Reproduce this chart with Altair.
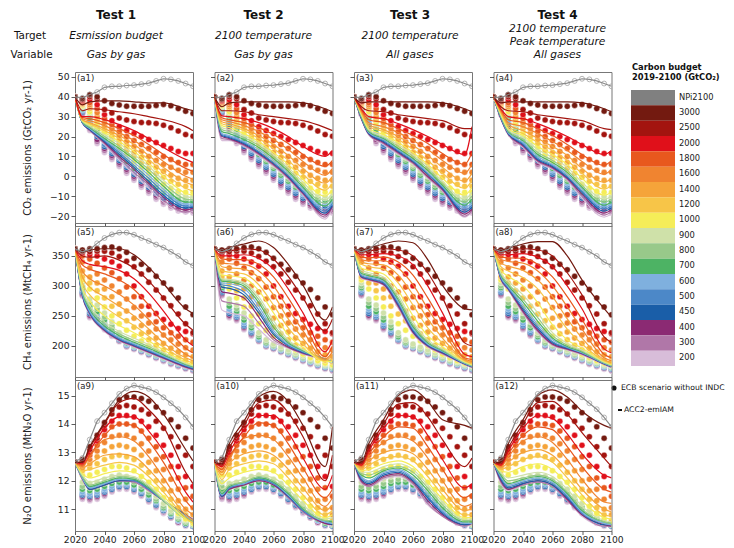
import altair as alt
import pandas as pd

FONT = "DejaVu Sans"

YEARS = list(range(2020, 2101, 5))
LINE_YEARS = [2020, 2025, 2030, 2040, 2050, 2060, 2070, 2080, 2095, 2100]
BUDGETS = ["3000", "2500", "2000", "1800", "1600", "1400", "1200", "1000", "900",
           "800", "700", "600", "500", "450", "400", "300", "200"]
CATS = ["NPi2100"] + BUDGETS
COLORS = ["#808080", "#731a10", "#a3140f", "#e0101a", "#e8581e", "#f08430", "#f5a43a",
          "#f7c548", "#f5ed58", "#cfe1a9", "#98c98a", "#4db364", "#7fb0de", "#4c88c8",
          "#1a5ea8", "#8b2a73", "#b077a8", "#d8bdd9"]

TESTS = ["Test 1", "Test 2", "Test 3", "Test 4"]
TARGETS = [["Esmission budget", "Gas by gas"],
           ["2100 temperature", "Gas by gas"],
           ["2100 temperature", "All gases"],
           ["2100 temperature", "Peak temperature", "All gases"]]
ROW_NAMES = ["Target", "Variable"]
LEGEND_TITLE = ["Carbon budget", "2019-2100 (GtCO₂)"]
KEY_DOT = "ECB scenario without INDC"
KEY_LINE = "ACC2-emIAM"

# ---------------- NPi2100 (same in every test) ----------------
NPI_CO2 = [40, 39.5, 41.2, 42.4, 44.8, 45.3, 45.3, 45.7, 45.9, 46.4, 46.9, 48, 49.1, 48.8, 48, 46.7, 45.3]
NPI_CH4 = [362, 357, 361, 371, 380, 386, 389, 389, 385.5, 380, 375, 369, 364, 357, 350, 340, 334]
NPI_N2O = [12.68, 12.8, 13.45, 14.1, 14.4, 14.73, 15.06, 15.25, 15.36, 15.3, 15.24, 15.12, 14.94, 14.73, 14.52, 14.23, 13.9]

# ---------------- ECB scenarios (dots), 2020..2100 every 5 yr ----------------
ECB_CO2 = [
    [40, 39, 41, 40, 38, 36.7, 35.9, 35.3, 35.2, 35.2, 35.2, 35.7, 36.2, 35.5, 34.1, 32.8, 31.6],
    [40, 38.5, 40, 39, 33.6, 31.9, 29.3, 28.4, 27.6, 27.1, 27, 26.6, 25.7, 24.5, 22.8, 21, 20.2],
    [40, 38, 38.5, 36, 31, 28, 25, 23, 21.5, 20, 18.5, 17, 15.5, 14, 12.5, 11.5, 11.5],
    [40, 37.5, 37, 34, 29, 26, 22.5, 20, 18, 16, 14, 12, 10, 8.5, 7, 6, 6],
    [40, 37, 36, 32, 27, 24, 20.5, 17.5, 15, 12.5, 10, 8, 6, 4.5, 3, 2, 2],
    [40, 36.5, 35, 30, 25.5, 22, 18.5, 15, 12, 9.5, 7, 4.5, 2.5, 0.5, -1, -2, -2],
    [40, 36, 34, 28.5, 24, 20, 16.5, 13, 10, 7, 4, 1.5, -0.5, -2.5, -4, -5, -5],
    [40, 35.5, 32.5, 27, 22, 18.5, 14.5, 11, 7.5, 4.5, 1.5, -1.5, -4, -6, -7.5, -8, -8],
    [40, 35, 31.5, 26, 21, 17, 13, 9.5, 6, 3, 0, -3, -5.5, -7.5, -9, -10, -10],
    [40, 34.5, 30.5, 25, 20, 16, 12, 8.5, 5, 1.5, -1.5, -4.5, -7, -9, -10.5, -11, -11],
    [40, 34, 29.5, 23.5, 19, 15, 11, 7.5, 4, 0.5, -2.5, -5.5, -8, -10, -11.5, -12, -12.5],
    [40, 33.5, 28, 22, 17.5, 13.5, 10, 6.5, 3, -0.5, -3.5, -6.5, -9, -11, -12.5, -13, -13.5],
    [40, 33, 27, 21, 16, 12.5, 9, 5.5, 2, -1.5, -4.5, -7.5, -10, -12, -13.5, -14, -14.5],
    [40, 32.5, 26, 20, 15, 11.5, 8, 4.5, 1, -2.5, -5.5, -8.5, -11, -13, -14.5, -15, -15.5],
    [40, 32, 25, 18.5, 14, 10.5, 7, 3.5, 0, -3.5, -6.5, -9.5, -12, -14, -15.5, -16, -16.5],
    [40, 31.5, 24, 17.5, 13, 9.5, 6, 2.5, -1, -4.5, -7.5, -10.5, -13, -15, -16.5, -17, -17.5],
    [40, 31, 23, 16.5, 12, 8.5, 5, 1.5, -2, -5.5, -8.5, -11.5, -14, -16, -17.5, -18, -18.5],
]
ECB_CH4 = [
    [362, 360, 362, 362, 364, 365, 362, 356, 346, 336, 327, 316, 305, 294, 280, 265, 252],
    [362, 358, 357, 358, 358, 355, 349, 341, 332, 320, 306, 293, 280, 267, 253, 237, 222],
    [362, 355, 352, 350, 345, 340, 333, 320, 300, 282, 266, 254, 244, 236, 229, 224, 220],
    [362, 350, 345, 338, 330, 322, 312, 298, 282, 266, 252, 240, 230, 222, 216, 210, 206],
    [362, 340, 330, 320, 310, 300, 290, 278, 264, 250, 238, 228, 218, 210, 203, 197, 193],
    [362, 325, 315, 305, 295, 282, 270, 258, 246, 234, 223, 213, 204, 196, 190, 185, 182],
    [362, 315, 305, 292, 280, 266, 253, 242, 231, 220, 210, 201, 193, 186, 180, 176, 173],
    [362, 310, 295, 280, 265, 250, 237, 226, 216, 208, 200, 193, 186, 180, 175, 171, 168],
    [362, 305, 278, 268, 255, 240, 222, 210, 203, 198, 193, 188, 183, 178, 173, 169, 166],
    [362, 300, 272, 262, 248, 234, 218, 207, 201, 196, 191, 186, 181, 176, 172, 168, 165],
    [362, 297, 266, 257, 243, 230, 215, 205, 200, 195, 190, 185, 180, 175, 171, 167, 164],
    [362, 294, 261, 253, 238, 227, 213, 203, 199, 194, 189, 184, 179, 174, 170, 166, 163],
    [362, 291, 257, 250, 235, 224, 211, 202, 198, 193, 188, 183, 178, 173, 169, 165, 162],
    [362, 289, 254, 248, 233, 222, 210, 201, 197, 192, 187, 182, 177, 172, 168, 164, 161],
    [362, 287, 251, 246, 231, 220, 209, 200, 196, 191, 186, 181, 176, 171, 167, 163, 160],
    [362, 285, 249, 244, 229, 218, 208, 199, 195, 190, 185, 180, 175, 170, 166, 162, 159],
    [362, 283, 247, 242, 227, 216, 207, 198, 194, 189, 184, 179, 174, 169, 165, 161, 158],
]
ECB_N2O = [
    [12.65, 12.75, 13.2, 13.6, 14.05, 14.5, 14.85, 14.95, 14.95, 14.9, 14.8, 14.6, 14.4, 14.15, 13.9, 13.5, 13.15],
    [12.65, 12.7, 13.1, 13.5, 13.95, 14.35, 14.6, 14.65, 14.6, 14.5, 14.35, 14.1, 13.85, 13.55, 13.2, 12.9, 12.5],
    [12.65, 12.65, 13.0, 13.4, 13.8, 14.1, 14.3, 14.3, 14.25, 14.1, 13.9, 13.6, 13.25, 12.9, 12.5, 12.15, 11.8],
    [12.65, 12.6, 12.9, 13.25, 13.6, 13.9, 14.0, 14.0, 13.95, 13.75, 13.5, 13.2, 12.85, 12.5, 12.1, 11.75, 11.45],
    [12.65, 12.55, 12.75, 13.05, 13.35, 13.55, 13.6, 13.6, 13.5, 13.3, 13.05, 12.75, 12.4, 12.05, 11.7, 11.35, 11.05],
    [12.65, 12.45, 12.6, 12.85, 13.05, 13.2, 13.25, 13.2, 13.1, 12.9, 12.65, 12.35, 12.0, 11.65, 11.3, 11.0, 10.8],
    [12.65, 12.35, 12.45, 12.6, 12.75, 12.85, 12.9, 12.85, 12.75, 12.55, 12.3, 12.0, 11.7, 11.35, 11.05, 10.8, 10.6],
    [12.65, 12.2, 12.2, 12.3, 12.4, 12.5, 12.5, 12.45, 12.35, 12.15, 11.95, 11.7, 11.4, 11.1, 10.85, 10.65, 10.5],
    [12.65, 11.95, 11.9, 11.95, 12.05, 12.15, 12.2, 12.15, 12.05, 11.9, 11.7, 11.45, 11.2, 10.95, 10.75, 10.6, 10.5],
    [12.65, 11.8, 11.75, 11.8, 11.9, 12.0, 12.05, 12.05, 11.95, 11.8, 11.6, 11.35, 11.1, 10.9, 10.7, 10.55, 10.45],
    [12.65, 11.7, 11.65, 11.7, 11.8, 11.9, 11.95, 11.95, 11.85, 11.7, 11.5, 11.3, 11.05, 10.85, 10.65, 10.5, 10.45],
    [12.65, 11.6, 11.55, 11.6, 11.7, 11.8, 11.9, 11.9, 11.8, 11.65, 11.45, 11.25, 11.0, 10.8, 10.6, 10.5, 10.45],
    [12.65, 11.55, 11.5, 11.55, 11.65, 11.75, 11.85, 11.85, 11.75, 11.6, 11.4, 11.2, 11.0, 10.8, 10.6, 10.5, 10.4],
    [12.65, 11.5, 11.45, 11.5, 11.6, 11.7, 11.8, 11.8, 11.7, 11.55, 11.35, 11.15, 10.95, 10.75, 10.6, 10.45, 10.4],
    [12.65, 11.45, 11.4, 11.45, 11.55, 11.7, 11.8, 11.8, 11.7, 11.55, 11.35, 11.15, 10.95, 10.75, 10.55, 10.45, 10.4],
    [12.65, 11.4, 11.35, 11.4, 11.5, 11.65, 11.75, 11.75, 11.65, 11.5, 11.3, 11.1, 10.9, 10.7, 10.55, 10.45, 10.4],
    [12.65, 11.35, 11.3, 11.35, 11.45, 11.6, 11.7, 11.7, 11.6, 11.45, 11.25, 11.05, 10.85, 10.7, 10.5, 10.4, 10.4],
]

# ---------------- ACC2-emIAM (lines), at LINE_YEARS ----------------
ACC2_CO2_T1 = [
    [40, 36, 37.5, 38, 38, 37.5, 37, 37, 34, 33],
    [40, 33, 34, 33.5, 32.5, 31.5, 30, 28.5, 25, 23],
    [40, 30, 30, 28.5, 26, 23, 19, 14.5, 8.5, 7],
    [40, 29.5, 29, 27, 24, 20.5, 16, 11, 4, 2.5],
    [40, 29, 28, 25.5, 22, 18, 13, 7.5, 0, -1.5],
    [40, 28.5, 27, 24, 20.5, 16, 10.5, 4.5, -3, -4.5],
    [40, 28.5, 26.5, 23, 19, 14, 8.5, 2, -6, -7.5],
    [40, 28, 26, 22, 17.5, 12.5, 6.5, 0, -8.5, -9.5],
    [40, 28, 25.5, 21, 16.5, 11, 5, -2, -10, -11],
    [40, 27.5, 25, 20, 15, 9.5, 3.5, -3.5, -11.5, -12],
    [40, 27.5, 24.5, 19, 14, 8.5, 2, -5, -13, -13],
    [40, 27.5, 24, 18.5, 13, 7, 0.5, -6.5, -14, -14],
    [40, 27, 24, 18, 12, 5.5, -1, -8, -15, -15],
    [40, 27, 23.5, 17.5, 11, 4.5, -2.5, -9.5, -16, -15.5],
    [40, 27, 23.5, 17, 10, 3.5, -3.5, -10.5, -17, -16],
    [40, 27, 23, 16.5, 9, 2, -4.5, -12, -18, -17],
    [40, 27, 23, 16, 8, 1, -6, -13, -18.5, -17.5],
]
ACC2_CO2_T2 = [
    [40, 35, 37, 37.5, 37.5, 37.5, 37.5, 37, 34, 32.5],
    [40, 33, 33, 32.5, 31, 30, 29, 28, 24.5, 23],
    [40, 30.5, 30, 29, 27, 24, 20, 15, 10, 13],
    [40, 29.5, 28.5, 27, 24.5, 21, 16.5, 11, 5, 8],
    [40, 28.5, 27.5, 25.5, 22.5, 18.5, 13.5, 7.5, 0.5, 4],
    [40, 27.5, 26.5, 24, 20.5, 16, 10.5, 4, -3.5, 0],
    [40, 26.5, 25.5, 23, 19, 14, 8, 1, -7, -3.5],
    [40, 25.5, 24.5, 21.5, 17.5, 12, 6, -1.5, -10, -6.5],
    [40, 24.5, 23.5, 20.5, 16.5, 11, 4.5, -3, -12, -8.5],
    [40, 23.5, 22.5, 19.5, 15.5, 10, 3.5, -4.5, -13.5, -10],
    [40, 22.5, 21.5, 18.5, 14.5, 9, 2.5, -5.5, -15, -11.5],
    [40, 21.5, 20.5, 17.5, 13.5, 8, 1.5, -6.5, -16.5, -12.5],
    [40, 21, 20, 17, 12.5, 7, 0.5, -7.5, -17.5, -13.5],
    [40, 20.5, 19.5, 16.5, 12, 6.5, 0, -8, -18.5, -14.5],
    [40, 20, 19, 16, 11.5, 6, -0.5, -8.5, -19.5, -15],
    [40, 19, 18.5, 15.5, 11, 5.5, -1, -9, -20.5, -15.5],
    [40, 18, 18, 15, 10.5, 5, -1.5, -9.5, -21.5, -16],
]
ACC2_CO2_T3 = [
    [40, 37, 37.5, 37.5, 37.5, 37.5, 37.5, 37, 34, 32.5],
    [40, 35, 33, 32.5, 31, 30, 29, 28, 24, 24],
    [40, 34, 30, 29, 26.5, 23.5, 20, 16, 11, 25],
    [40, 33.5, 28.5, 27, 24, 20.5, 16.5, 11.5, 6, 12],
    [40, 33, 27, 25, 22, 18, 13.5, 8, 1.5, 6],
    [40, 32.5, 26, 23.5, 20, 15.5, 10.5, 4.5, -2.5, 1.5],
    [40, 32, 25, 22.5, 18.5, 13.5, 8, 1.5, -6, -2],
    [40, 31.5, 24, 21, 17, 12, 6, -1, -9.5, -5.5],
    [40, 31, 23.5, 20, 16, 11, 5, -2.5, -11.5, -8],
    [40, 30.5, 23, 19.5, 15, 10, 4, -3.5, -13, -10],
    [40, 30, 22.5, 19, 14, 9, 3, -4.5, -14.5, -11.5],
    [40, 30, 22, 18.5, 13.5, 8.5, 2, -5, -16, -13],
    [40, 29.5, 22, 18, 13, 8, 1.5, -5.5, -17, -14.5],
    [40, 29.5, 21.5, 17.5, 12.5, 7.5, 1, -6, -18, -15.5],
    [40, 29, 21.5, 17, 12, 7, 0, -6.5, -19, -16.5],
    [40, 29, 21, 16.5, 11.5, 6.5, -0.5, -7, -20, -17.5],
    [40, 29, 21, 16, 11, 6, -1, -7.5, -20.5, -18],
]
ACC2_CO2_T4 = [
    [40, 37, 37.5, 37.5, 37.5, 37.5, 37.5, 37, 34, 32.5],
    [40, 35, 33, 32.5, 31, 30, 29, 28, 24, 23.5],
    [40, 34, 30, 29, 26.5, 23.5, 20, 16, 11, 13],
    [40, 33.5, 28.5, 27, 24, 20.5, 16, 11, 5.5, 8],
    [40, 33, 27, 25, 21.5, 17.5, 13, 7.5, 1, 3.5],
    [40, 32.5, 26, 23, 19, 15, 10.5, 4, -3, -1],
    [40, 32, 25, 21.5, 17, 13, 8, 1.5, -6.5, -4.5],
    [40, 31.5, 24, 20.5, 15, 11, 6, -1, -9.5, -8],
    [40, 31, 23.5, 19.5, 13.5, 9.5, 4.5, -3, -11.5, -10],
    [40, 30.5, 23, 18.5, 12, 8, 3, -4.5, -13, -11.5],
    [40, 30, 22.5, 18, 11, 7, 2, -5.5, -14.5, -13],
    [40, 30, 22, 17, 10, 6, 1, -6.5, -15.5, -14],
    [40, 29.5, 22, 16.5, 9, 5.5, 0, -7.5, -16.5, -15],
    [40, 29.5, 21.5, 16, 8.5, 5, -0.5, -8, -17.5, -16],
    [40, 29, 21.5, 15.5, 8, 4.5, -1, -9, -18.5, -17],
    [40, 29, 21, 15, 7.5, 4, -1.5, -10, -19.5, -18],
    [40, 29, 21, 14.5, 7, 3.5, -2, -11, -20.5, -19],
]
ACC2_CH4_T1 = [
    [362, 356, 360, 362, 362, 352, 331, 304, 262, 254],
    [362, 350, 348, 350, 343, 330, 308, 280, 236, 226],
    [362, 342, 336, 332, 326, 312, 288, 258, 210, 200],
    [362, 335, 328, 320, 310, 294, 268, 238, 196, 188],
    [362, 325, 312, 300, 286, 268, 244, 218, 186, 180],
    [362, 315, 298, 282, 266, 250, 228, 205, 180, 175],
    [362, 305, 285, 265, 248, 234, 216, 198, 176, 171],
    [362, 298, 275, 250, 234, 222, 208, 193, 173, 168],
    [362, 294, 268, 240, 224, 213, 202, 189, 171, 167],
    [362, 292, 264, 236, 220, 209, 199, 187, 170, 166],
    [362, 290, 261, 233, 217, 206, 196, 185, 169, 165],
    [362, 288, 258, 230, 214, 204, 194, 183, 168, 164],
    [362, 286, 256, 228, 212, 202, 192, 182, 167, 163],
    [362, 285, 255, 227, 211, 201, 191, 181, 166, 162],
    [362, 284, 254, 226, 210, 200, 190, 180, 165, 161],
    [362, 283, 253, 225, 209, 199, 189, 179, 164, 160],
    [362, 282, 252, 224, 208, 198, 188, 178, 163, 159],
]
ACC2_CH4_T2 = [
    [362, 360, 364, 370, 375, 364, 336, 301, 243, 265],
    [362, 356, 358, 362, 360, 345, 316, 280, 225, 245],
    [362, 350, 350, 352, 346, 328, 295, 255, 190, 210],
    [362, 345, 344, 344, 336, 315, 280, 240, 182, 200],
    [362, 338, 337, 336, 325, 300, 262, 225, 178, 190],
    [362, 332, 330, 328, 314, 285, 245, 212, 176, 184],
    [362, 325, 323, 320, 302, 268, 230, 203, 175, 178],
    [362, 318, 317, 313, 292, 255, 218, 197, 174, 174],
    [362, 312, 311, 306, 282, 242, 210, 194, 175, 172],
    [362, 310, 309, 303, 277, 236, 207, 193, 176, 172],
    [362, 308, 307, 300, 272, 231, 205, 192, 177, 172],
    [362, 305, 304, 296, 266, 226, 203, 191, 178, 173],
    [362, 302, 300, 290, 260, 222, 201, 190, 178, 173],
    [362, 298, 296, 285, 255, 219, 200, 189, 178, 173],
    [362, 290, 288, 280, 248, 214, 198, 188, 177, 172],
    [362, 275, 272, 266, 238, 210, 197, 187, 177, 172],
    [362, 260, 255, 250, 228, 206, 196, 186, 176, 171],
]
ACC2_CH4_T3 = [
    [362, 360, 363, 370, 375, 372, 344, 301, 262, 260],
    [362, 356, 358, 362, 360, 350, 322, 280, 205, 200],
    [362, 352, 352, 354, 350, 335, 300, 255, 186, 182],
    [362, 348, 347, 348, 340, 318, 280, 238, 180, 177],
    [362, 344, 342, 342, 330, 302, 262, 225, 178, 174],
    [362, 340, 337, 335, 318, 285, 245, 213, 176, 172],
    [362, 336, 332, 328, 305, 268, 230, 205, 175, 170],
    [362, 330, 326, 320, 292, 250, 217, 198, 174, 169],
    [362, 326, 322, 315, 285, 240, 210, 195, 173, 168],
    [362, 323, 319, 312, 280, 235, 207, 193, 172, 167],
    [362, 321, 317, 310, 277, 232, 205, 192, 172, 167],
    [362, 319, 315, 308, 274, 229, 203, 191, 171, 166],
    [362, 317, 313, 306, 271, 227, 202, 190, 171, 166],
    [362, 316, 312, 305, 269, 225, 201, 189, 170, 165],
    [362, 315, 311, 303, 267, 223, 200, 188, 170, 165],
    [362, 314, 310, 302, 265, 222, 199, 187, 169, 164],
    [362, 313, 309, 301, 263, 220, 198, 186, 169, 164],
]
ACC2_CH4_T4 = [
    [362, 360, 363, 370, 374, 374, 350, 310, 262, 248],
    [362, 356, 358, 362, 360, 350, 322, 285, 215, 205],
    [362, 352, 352, 354, 348, 332, 300, 262, 195, 188],
    [362, 348, 347, 346, 336, 315, 282, 244, 186, 180],
    [362, 344, 341, 338, 325, 300, 265, 228, 180, 175],
    [362, 338, 333, 326, 310, 282, 245, 213, 177, 172],
    [362, 332, 325, 314, 295, 262, 228, 203, 175, 170],
    [362, 326, 316, 300, 272, 235, 210, 196, 174, 169],
    [362, 322, 308, 285, 255, 222, 204, 193, 173, 168],
    [362, 320, 304, 278, 247, 217, 201, 191, 172, 167],
    [362, 318, 301, 273, 241, 213, 199, 190, 172, 167],
    [362, 316, 299, 268, 236, 210, 198, 189, 171, 166],
    [362, 314, 297, 264, 232, 207, 197, 188, 171, 166],
    [362, 313, 296, 261, 229, 205, 196, 188, 170, 165],
    [362, 312, 295, 258, 226, 203, 195, 187, 170, 165],
    [362, 311, 294, 256, 224, 202, 194, 186, 169, 164],
    [362, 310, 293, 254, 222, 201, 193, 185, 169, 164],
]
ACC2_N2O_T1 = [
    [12.65, 12.65, 13.2, 14.05, 14.85, 15.15, 14.95, 14.35, 13.1, 12.7],
    [12.65, 12.65, 13.15, 14.0, 14.75, 14.9, 14.5, 13.9, 12.3, 11.9],
    [12.65, 12.6, 13.05, 13.85, 14.25, 14.25, 13.75, 13.05, 11.6, 11.25],
    [12.65, 12.55, 12.9, 13.6, 14.0, 13.95, 13.4, 12.65, 11.3, 11.0],
    [12.65, 12.5, 12.85, 13.45, 13.55, 13.4, 12.85, 12.1, 11.0, 10.8],
    [12.65, 12.45, 12.6, 12.9, 12.95, 12.85, 12.4, 11.8, 10.8, 10.6],
    [12.65, 12.35, 12.4, 12.55, 12.65, 12.55, 12.15, 11.6, 10.7, 10.5],
    [12.65, 12.25, 12.1, 12.25, 12.35, 12.3, 11.95, 11.45, 10.65, 10.5],
    [12.65, 12.2, 11.95, 12.1, 12.2, 12.15, 11.85, 11.35, 10.65, 10.5],
    [12.65, 12.15, 11.85, 12.0, 12.15, 12.1, 11.8, 11.3, 10.65, 10.55],
    [12.65, 12.15, 11.8, 11.95, 12.1, 12.05, 11.75, 11.3, 10.7, 10.55],
    [12.65, 12.1, 11.75, 11.9, 12.05, 12.05, 11.75, 11.3, 10.75, 10.6],
    [12.65, 12.1, 11.75, 11.9, 12.05, 12.0, 11.7, 11.3, 10.75, 10.6],
    [12.65, 12.1, 11.7, 11.85, 12.0, 12.0, 11.7, 11.3, 10.8, 10.6],
    [12.65, 12.1, 11.7, 11.85, 12.0, 12.0, 11.7, 11.3, 10.8, 10.6],
    [12.65, 12.05, 11.7, 11.85, 12.0, 11.95, 11.65, 11.3, 10.8, 10.65],
    [12.65, 12.05, 11.7, 11.85, 12.0, 11.95, 11.65, 11.3, 10.8, 10.65],
]
ACC2_N2O_T2 = [
    [12.65, 12.6, 13.3, 14.1, 14.95, 15.15, 14.8, 13.95, 12.5, 13.9],
    [12.65, 12.55, 13.15, 13.95, 14.75, 14.85, 14.4, 13.55, 12.0, 12.9],
    [12.65, 12.5, 13.0, 13.8, 14.3, 14.3, 13.7, 12.8, 11.7, 12.2],
    [12.65, 12.4, 12.85, 13.55, 14.05, 13.95, 13.3, 12.45, 11.4, 11.7],
    [12.65, 12.3, 12.75, 13.5, 13.6, 13.45, 12.85, 12.1, 11.1, 11.4],
    [12.65, 12.2, 12.6, 12.95, 13.05, 12.9, 12.4, 11.75, 10.95, 11.15],
    [12.65, 12.05, 12.4, 12.6, 12.7, 12.6, 12.1, 11.5, 10.8, 10.95],
    [12.65, 11.9, 12.1, 12.3, 12.4, 12.3, 11.85, 11.3, 10.7, 10.8],
    [12.65, 11.7, 11.9, 12.05, 12.2, 12.1, 11.7, 11.15, 10.65, 10.7],
    [12.65, 11.6, 11.85, 11.95, 12.15, 12.0, 11.6, 11.05, 10.6, 10.6],
    [12.65, 11.55, 11.8, 11.95, 12.1, 11.95, 11.55, 11.0, 10.6, 10.55],
    [12.65, 11.5, 11.8, 11.9, 12.1, 11.95, 11.5, 11.0, 10.55, 10.5],
    [12.65, 11.5, 11.75, 11.9, 12.05, 11.9, 11.5, 10.95, 10.55, 10.5],
    [12.65, 11.45, 11.75, 11.9, 12.05, 11.9, 11.45, 10.95, 10.55, 10.45],
    [12.65, 11.45, 11.7, 11.85, 12.0, 11.85, 11.45, 10.95, 10.5, 10.45],
    [12.65, 11.4, 11.7, 11.85, 12.0, 11.85, 11.4, 10.9, 10.5, 10.45],
    [12.65, 11.4, 11.7, 11.85, 12.0, 11.85, 11.4, 10.9, 10.5, 10.4],
]
ACC2_N2O_T3 = [
    [12.65, 12.65, 13.3, 14.15, 15.0, 15.2, 14.8, 14.15, 13.95, 13.85],
    [12.65, 12.6, 13.15, 14.0, 14.7, 14.75, 14.25, 13.45, 12.5, 12.8],
    [12.65, 12.55, 13.05, 13.85, 14.3, 14.25, 13.6, 12.75, 11.75, 11.9],
    [12.65, 12.55, 12.95, 13.55, 13.9, 13.85, 13.2, 12.4, 11.4, 11.55],
    [12.65, 12.5, 12.85, 13.35, 13.55, 13.4, 12.8, 12.0, 11.1, 11.2],
    [12.65, 12.45, 12.7, 13.0, 13.1, 12.95, 12.4, 11.7, 10.95, 11.0],
    [12.65, 12.4, 12.55, 12.8, 12.85, 12.7, 12.15, 11.5, 10.8, 10.8],
    [12.65, 12.35, 12.4, 12.6, 12.7, 12.5, 11.95, 11.35, 10.7, 10.7],
    [12.65, 12.3, 12.3, 12.5, 12.6, 12.4, 11.85, 11.25, 10.65, 10.65],
    [12.65, 12.25, 12.2, 12.4, 12.5, 12.3, 11.75, 11.15, 10.6, 10.6],
    [12.65, 12.2, 12.1, 12.35, 12.45, 12.2, 11.65, 11.05, 10.55, 10.55],
    [12.65, 12.15, 12.0, 12.3, 12.4, 12.1, 11.55, 10.95, 10.5, 10.5],
    [12.65, 12.1, 11.95, 12.25, 12.35, 12.05, 11.45, 10.9, 10.5, 10.5],
    [12.65, 12.05, 11.9, 12.2, 12.3, 12.0, 11.4, 10.85, 10.45, 10.5],
    [12.65, 12.0, 11.85, 12.15, 12.25, 11.95, 11.3, 10.8, 10.45, 10.5],
    [12.65, 11.95, 11.8, 12.1, 12.2, 11.9, 11.2, 10.75, 10.4, 10.5],
    [12.65, 11.9, 11.8, 12.05, 12.15, 11.85, 11.15, 10.75, 10.4, 10.45],
]
ACC2_N2O_T4 = [
    [12.65, 12.65, 13.3, 14.15, 15.0, 15.2, 14.95, 14.45, 13.95, 13.85],
    [12.65, 12.6, 13.15, 14.0, 14.75, 14.8, 14.35, 13.7, 12.8, 12.5],
    [12.65, 12.55, 13.05, 13.85, 14.3, 14.2, 13.65, 12.95, 12.2, 12.1],
    [12.65, 12.55, 12.95, 13.6, 13.9, 13.8, 13.2, 12.5, 11.7, 11.6],
    [12.65, 12.5, 12.85, 13.4, 13.55, 13.35, 12.75, 12.05, 11.25, 11.2],
    [12.65, 12.45, 12.65, 13.0, 13.1, 12.9, 12.35, 11.7, 11.0, 10.9],
    [12.65, 12.4, 12.5, 12.75, 12.85, 12.65, 12.1, 11.5, 10.8, 10.75],
    [12.65, 12.35, 12.3, 12.5, 12.6, 12.4, 11.9, 11.3, 10.7, 10.65],
    [12.65, 12.3, 12.1, 12.2, 12.3, 12.15, 11.7, 11.1, 10.6, 10.55],
    [12.65, 12.25, 12.0, 12.1, 12.2, 12.05, 11.6, 11.0, 10.55, 10.5],
    [12.65, 12.2, 11.9, 12.05, 12.15, 12.0, 11.55, 10.95, 10.55, 10.5],
    [12.65, 12.15, 11.85, 12.0, 12.1, 11.95, 11.5, 10.9, 10.5, 10.45],
    [12.65, 12.1, 11.8, 11.95, 12.05, 11.9, 11.45, 10.85, 10.5, 10.45],
    [12.65, 12.05, 11.75, 11.9, 12.0, 11.85, 11.4, 10.85, 10.45, 10.45],
    [12.65, 12.0, 11.7, 11.9, 12.0, 11.85, 11.35, 10.8, 10.45, 10.4],
    [12.65, 11.95, 11.7, 11.85, 11.95, 11.8, 11.3, 10.8, 10.4, 10.4],
    [12.65, 11.9, 11.65, 11.85, 11.95, 11.8, 11.3, 10.75, 10.4, 10.4],
]

GASES = ["CO2", "CH4", "N2O"]
NPI = {"CO2": NPI_CO2, "CH4": NPI_CH4, "N2O": NPI_N2O}
ECB = {"CO2": ECB_CO2, "CH4": ECB_CH4, "N2O": ECB_N2O}
ACC2 = {
    "CO2": [ACC2_CO2_T1, ACC2_CO2_T2, ACC2_CO2_T3, ACC2_CO2_T4],
    "CH4": [ACC2_CH4_T1, ACC2_CH4_T2, ACC2_CH4_T3, ACC2_CH4_T4],
    "N2O": [ACC2_N2O_T1, ACC2_N2O_T2, ACC2_N2O_T3, ACC2_N2O_T4],
}
GAS_INFO = {
    "CO2": dict(domain=[-23.5, 52.5], ticks=[-20, -10, 0, 10, 20, 30, 40, 50],
                title="CO₂ emissions (GtCO₂ yr-1)"),
    "CH4": dict(domain=[148, 400], ticks=[200, 250, 300, 350],
                title="CH₄ emissions (MtCH₄ yr-1)"),
    "N2O": dict(domain=[10.23, 15.55], ticks=[11, 12, 13, 14, 15],
                title="N₂O emissions (MtN₂O yr-1)"),
}
XTICKS = [2020, 2040, 2060, 2080, 2100]
TITLE_DX = [-18, -10, -3, 5]
SUB_LH = [19.5, 19.5, 19.5, 13]
SUB_PAD = [8.5, 8.5, 8.5, 2]

PW, PH = 118, 151


def long_df(rows, years):
    # low budgets first, so that higher budgets are drawn on top (as in the original)
    recs = []
    pairs = list(zip(BUDGETS, rows))
    for k, (cat, vals) in reversed(list(enumerate(pairs))):
        for yr, v in zip(years, vals):
            recs.append({"cat": cat, "ord": k, "year": yr, "value": v})
    return pd.DataFrame(recs)


color_enc = alt.Color("cat:N", scale=alt.Scale(domain=CATS, range=COLORS), legend=None)


def make_panel(r, c):
    gas = GASES[r]
    info = GAS_INFO[gas]
    x = alt.X("year:Q", scale=alt.Scale(domain=[2020, 2100], nice=False, zero=False),
              axis=alt.Axis(values=XTICKS, labels=(r == 2), format="d", labelFlush=False,
                            labelOverlap=False, labelPadding=1, tickSize=3.5, grid=False),
              title=None)
    yaxis = dict(values=info["ticks"], labels=(c == 0), labelPadding=2, titlePadding=3, grid=False)
    if c == 0:
        yaxis.update(minExtent=40, maxExtent=40)
    y = alt.Y("value:Q", scale=alt.Scale(domain=info["domain"], nice=False, zero=False),
              axis=alt.Axis(**yaxis), title=info["title"] if c == 0 else None)

    dots = alt.Chart(long_df(ECB[gas], YEARS)).mark_circle(
        size=36, opacity=1, stroke="white", strokeWidth=0.4, clip=True
    ).encode(x=x, y=y, color=color_enc, order=alt.Order("ord:Q", sort="descending"))
    lines = alt.Chart(long_df(ACC2[gas][c], LINE_YEARS)).mark_line(
        strokeWidth=1.2, clip=True, interpolate="monotone"
    ).encode(x=x, y=y, color=color_enc, detail="cat:N")
    npi_df = pd.DataFrame({"year": YEARS, "value": NPI[gas]})
    npi_line = alt.Chart(npi_df).mark_line(color="#8a8a8a", strokeWidth=1.2, clip=True).encode(x=x, y=y)
    npi_pts = alt.Chart(npi_df).mark_point(
        shape="circle", filled=False, color="#8a8a8a", size=24, strokeWidth=0.9, clip=True
    ).encode(x=x, y=y)
    lab = alt.Chart(pd.DataFrame({"t": [f"(a{r * 4 + c + 1})"]})).mark_text(
        align="left", baseline="top", fontSize=8.5, font=FONT, color="#222"
    ).encode(x=alt.value(2), y=alt.value(2), text="t:N")
    layers = [dots, lines, npi_line, npi_pts, lab]
    props = dict(width=PW, height=PH)
    if r == 0:
        props["title"] = alt.TitleParams(
            text=TESTS[c], subtitle=TARGETS[c], font=FONT, fontSize=12, fontWeight="bold",
            color="#111", subtitleFont=FONT, subtitleFontSize=10.6, subtitleFontStyle="italic",
            subtitleColor="#111", subtitleLineHeight=SUB_LH[c], subtitlePadding=SUB_PAD[c],
            anchor="middle", frame="group", dx=TITLE_DX[c], offset=10)
    if r == 1 and c == 0:
        # header row names, positioned relative to this panel so they stay out of the title bounds
        for name, xx, yy in zip(ROW_NAMES, [-45, -43.5], [-190, -171]):
            layers.append(alt.Chart(pd.DataFrame({"t": [name]})).mark_text(
                align="center", baseline="middle", fontSize=10.4, font=FONT, color="#111"
            ).encode(x=alt.value(xx), y=alt.value(yy), text="t:N"))
    return alt.layer(*layers).properties(**props)


# ---------------- legend column ----------------
leg_df = pd.DataFrame({"cat": CATS})
band_y = alt.Y("cat:N", sort=CATS, axis=None,
               scale=alt.Scale(range=[18, 294], paddingInner=0, paddingOuter=0))
boxes = alt.Chart(leg_df).mark_rect().encode(
    y=band_y, x=alt.value(-2), x2=alt.value(42), color=color_enc)
box_labels = alt.Chart(leg_df).mark_text(
    align="left", baseline="middle", fontSize=8.3, font=FONT, color="#222"
).encode(y=band_y, x=alt.value(46), text="cat:N")
leg_layers = [boxes, box_labels]
for line_txt, yy in zip(LEGEND_TITLE, [-4, 6]):
    leg_layers.append(alt.Chart(pd.DataFrame({"t": [line_txt]})).mark_text(
        align="left", baseline="middle", fontSize=8.3, fontWeight="bold", font=FONT, color="#111"
    ).encode(x=alt.value(-1), y=alt.value(yy), text="t:N"))
key_df = pd.DataFrame({"t": [KEY_DOT]})
leg_layers.append(alt.Chart(key_df).mark_circle(size=26, color="#111", opacity=1).encode(
    x=alt.value(-19), y=alt.value(316)))
leg_layers.append(alt.Chart(key_df).mark_text(
    align="left", baseline="middle", fontSize=7.7, font=FONT, color="#111"
).encode(x=alt.value(-12), y=alt.value(316), text="t:N"))
key2_df = pd.DataFrame({"t": [KEY_LINE]})
leg_layers.append(alt.Chart(key2_df).mark_rule(color="#111", strokeWidth=2).encode(
    x=alt.value(-15), x2=alt.value(-11), y=alt.value(338)))
leg_layers.append(alt.Chart(key2_df).mark_text(
    align="left", baseline="middle", fontSize=7.7, font=FONT, color="#111"
).encode(x=alt.value(-9), y=alt.value(338), text="t:N"))
legend = alt.layer(*leg_layers).properties(
    width=70, height=PH, view=alt.ViewBackground(stroke="transparent"))

filler = alt.Chart(pd.DataFrame({"v": [0]})).mark_point(opacity=0).encode(
    x=alt.X("v:Q", axis=None), y=alt.Y("v:Q", axis=None)
).properties(width=70, height=PH, view=alt.ViewBackground(stroke="transparent"))

cells = []
for r in range(3):
    for c in range(4):
        cells.append(make_panel(r, c))
    cells.append(legend if r == 0 else filler)

chart = alt.concat(*cells, columns=5, spacing={"row": 3, "column": 21.5}, bounds="flush").properties(
    padding={"left": 1, "top": 0, "right": 0, "bottom": 0}
).configure(font=FONT).configure_view(stroke="#777", strokeWidth=1).configure_axis(
    grid=False, domain=False, tickColor="#333", tickSize=4, tickWidth=0.8,
    labelFont=FONT, labelFontSize=9.2, labelColor="#222",
    titleFont=FONT, titleFontSize=10, titleColor="#222", titleFontWeight="normal"
)

chart.save("out.html", embed_options={"renderer": "svg", "actions": False})
